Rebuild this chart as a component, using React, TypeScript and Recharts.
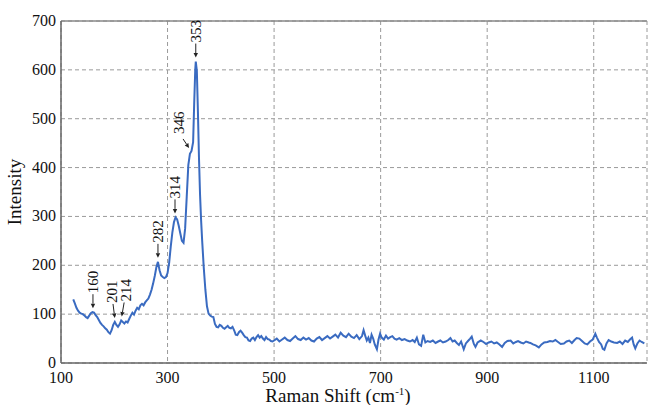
import React from 'react';
import { LineChart, Line, XAxis, YAxis, CartesianGrid, ReferenceLine, ReferenceDot } from 'recharts';

const shifts = [
  123,126,129,132,135,138,141,144,147,150,153,156,159,162,165,168,171,174,177,180,
  183,186,189,192,195,198,201,204,207,210,213,216,219,222,225,228,231,234,237,240,
  243,246,249,252,255,258,261,264,267,270,273,276,279,282,285,288,291,294,297,300,
  303,306,309,312,315,318,321,324,327,330,333,336,339,342,345,348,350,352,353,355,
  357,359,361,363,365,368,371,374,377,380,383,386,389,392,395,398,401,404,407,410,
  413,416,419,422,425,428,431,434,437,440,443,446,449,452,455,458,461,464,467,470,
  473,476,479,482,485,488,491,494,497,500,
  505,510,515,520,525,530,535,540,545,550,555,560,565,570,575,580,585,590,595,600,
  605,610,615,620,625,630,635,640,645,650,655,660,665,668,671,674,677,680,683,686,
  689,693,696,699,702,706,710,714,718,722,726,730,735,740,745,750,755,760,764,768,
  772,776,780,784,788,793,798,803,808,812,817,822,827,831,835,839,843,847,851,856,
  860,864,868,871,875,878,882,888,893,898,903,908,913,918,923,928,933,938,944,949,
  954,958,963,968,973,978,981,986,991,997,1002,1007,1013,1018,1023,1028,1033,1038,1044,1049,
  1054,1059,1064,1068,1073,1078,1083,1088,1093,1098,1103,1106,1110,1114,1117,1120,1124,1128,1133,1138,
  1144,1149,1154,1159,1164,1168,1172,1175,1178,1182,1186,1190,1195
];

const intensities = [
  130,122,113,107,103,101,100,97,94,92,97,102,104,103,98,94,88,82,78,75,
  71,68,63,60,67,78,84,78,74,79,87,84,81,85,83,90,97,103,99,107,
  113,110,118,121,118,124,128,132,140,150,163,178,196,207,190,179,176,174,176,184,
  205,238,267,288,298,294,281,265,250,246,275,340,405,428,434,452,530,600,617,598,
  515,420,345,292,250,195,150,116,101,97,95,94,80,74,73,78,76,72,70,73,
  76,72,71,74,67,58,57,63,66,62,57,53,52,46,45,50,52,47,53,57,
  52,55,50,47,53,49,48,45,44,46,
  50,44,48,52,47,45,50,55,49,47,52,48,51,46,44,50,53,47,51,55,
  50,54,58,52,62,56,53,60,54,51,57,49,55,67,56,46,52,41,58,50,
  38,28,48,60,52,48,56,50,53,55,50,48,51,47,49,46,44,47,43,52,
  38,35,58,42,45,43,46,41,44,46,42,44,47,51,44,46,41,37,44,28,
  40,45,50,54,39,33,42,46,43,39,42,44,40,42,38,33,41,45,46,40,
  43,45,42,40,44,42,41,38,36,32,38,42,43,45,44,47,43,39,40,44,
  46,41,47,51,50,45,40,38,44,48,60,52,43,38,29,27,40,47,44,42,
  41,44,39,46,43,48,52,38,30,40,46,43,40
];

const xTicks = [100, 300, 500, 700, 900, 1100];
const yTicks = [0, 100, 200, 300, 400, 500, 600, 700];
const peakLabels = [160, 201, 214, 282, 314, 346, 353];

const data = shifts.map((s, i) => ({ shift: s, intensity: intensities[i] }));

const nearestIntensity = (x: number) => {
  let best = 0;
  for (let i = 1; i < shifts.length; i++) {
    if (Math.abs(shifts[i] - x) < Math.abs(shifts[best] - x)) best = i;
  }
  return intensities[best];
};

const FONT = "Liberation Serif";

const Arrow = ({ x1, y1, x2, y2 }: { x1: number; y1: number; x2: number; y2: number }) => {
  const ang = Math.atan2(y2 - y1, x2 - x1);
  const L = 4.5;
  const W = 2.2;
  const bx = x2 - L * Math.cos(ang);
  const by = y2 - L * Math.sin(ang);
  const px = -Math.sin(ang) * W;
  const py = Math.cos(ang) * W;
  return (
    <g>
      <line x1={x1} y1={y1} x2={bx} y2={by} stroke="#222" strokeWidth={1} />
      <polygon points={`${x2},${y2} ${bx + px},${by + py} ${bx - px},${by - py}`} fill="#222" />
    </g>
  );
};

const labelShift = (label: number) => {
  if (label === 201) return -3;
  if (label === 214) return 4;
  return 0;
};

const makeShape = (label: number) => (props: any) => {
  const cx = props.cx;
  const cy = props.cy;
  if (cx == null || cy == null) return <g />;
  if (label === 346) {
    return (
      <g>
        <Arrow x1={cx - 9} y1={cy - 12} x2={cx - 3} y2={cy - 3} />
        <text
          transform={`translate(${cx - 13},${cy - 17}) rotate(-90)`}
          textAnchor="start"
          dominantBaseline="central"
          fontFamily={FONT}
          fontSize={15}
          fill="#111"
        >
          {String(label)}
        </text>
      </g>
    );
  }
  const dx = labelShift(label);
  return (
    <g>
      <Arrow x1={cx + dx * 0.6} y1={cy - 18} x2={cx} y2={cy - 4} />
      <text
        transform={`translate(${cx + dx},${cy - 19}) rotate(-90)`}
        textAnchor="start"
        dominantBaseline="central"
        fontFamily={FONT}
        fontSize={15}
        fill="#111"
      >
        {String(label)}
      </text>
    </g>
  );
};

const XTick = (props: any) => {
  const { x, payload } = props;
  return (
    <text x={x} y={383} textAnchor="middle" fontFamily={FONT} fontSize={16} fill="#111">
      {String(payload.value)}
    </text>
  );
};

const YTick = (props: any) => {
  const { y, payload } = props;
  return (
    <text x={56} y={y + 5} textAnchor="end" fontFamily={FONT} fontSize={16} fill="#111">
      {String(payload.value)}
    </text>
  );
};

const XTitle = () => (
  <text x={338} y={402} textAnchor="middle" fontFamily={FONT} fontSize={19} fill="#111">
    Raman Shift (cm
    <tspan dy={-7} fontSize={11}>-1</tspan>
    <tspan dy={7}>)</tspan>
  </text>
);

const YTitle = () => (
  <text
    transform="translate(21,192) rotate(-90)"
    textAnchor="middle"
    fontFamily={FONT}
    fontSize={19}
    fill="#111"
  >
    Intensity
  </text>
);

export default function App() {
  return (
    <div style={{ position: 'absolute', left: 0, top: 0 }}>
      <LineChart width={649} height={405} data={data} margin={{ top: 21, right: 2, bottom: 0, left: 0 }}>
        <CartesianGrid stroke="#9a9a9a" strokeDasharray="4 3" strokeWidth={1} />
        <XAxis
          dataKey="shift"
          type="number"
          domain={[100, 1200]}
          ticks={xTicks}
          allowDataOverflow
          height={42}
          tickLine={false}
          axisLine={{ stroke: '#666', strokeWidth: 1.5 }}
          tick={<XTick />}
          label={(p: any) => <XTitle />}
        />
        <YAxis
          type="number"
          domain={[0, 700]}
          ticks={yTicks}
          width={61}
          tickLine={false}
          axisLine={{ stroke: '#666', strokeWidth: 1.5 }}
          tick={<YTick />}
          label={(p: any) => <YTitle />}
        />
        <ReferenceLine y={700} stroke="#888" strokeWidth={1.5} />
        <Line
          dataKey="intensity"
          type="linear"
          stroke="#3a6bc1"
          strokeWidth={2}
          dot={false}
          isAnimationActive={false}
        />
        {peakLabels.map((p) => (
          <ReferenceDot
            key={p}
            x={p}
            y={nearestIntensity(p)}
            r={2}
            ifOverflow="visible"
            shape={makeShape(p)}
          />
        ))}
      </LineChart>
    </div>
  );
}
